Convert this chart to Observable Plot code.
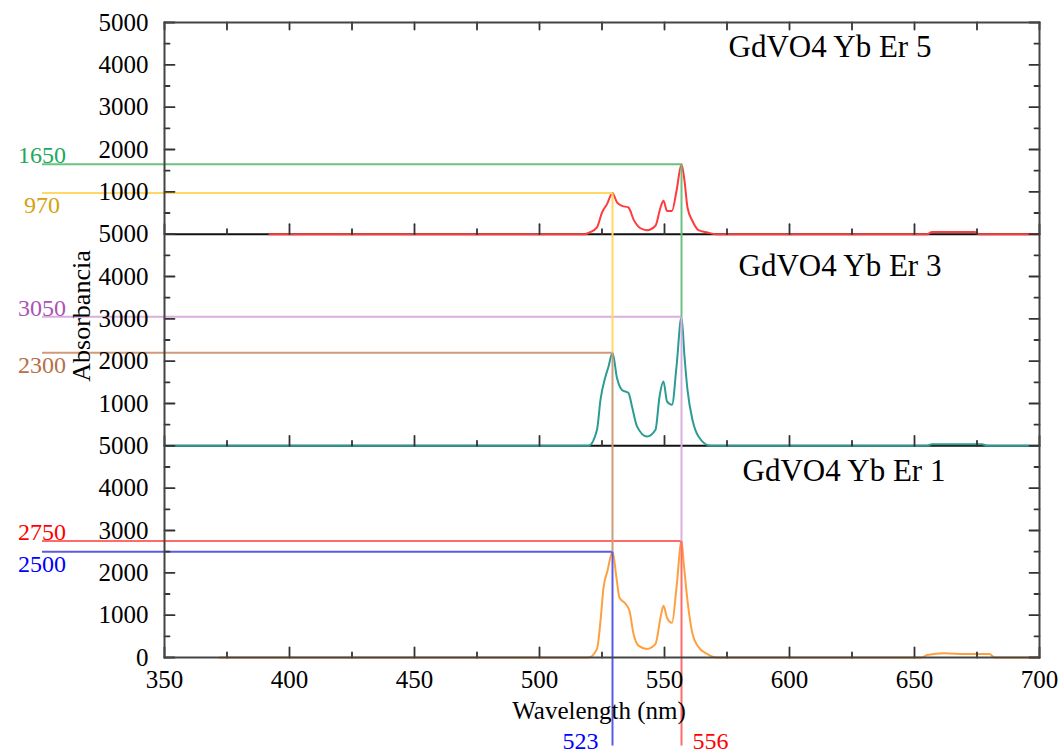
<!DOCTYPE html>
<html><head><meta charset="utf-8">
<script src="https://cdn.jsdelivr.net/npm/d3@7"></script>
<script src="https://cdn.jsdelivr.net/npm/@observablehq/plot@0.6"></script>
<style>body{margin:0;background:#fff}#chart{width:1064px;height:753px}</style>
</head><body><div id="chart"></div>
<script>
// ---------- data ----------
const xDomain = [350, 700];
const xTickValues = [350, 400, 450, 500, 550, 600, 650, 700];
const xMinorTicks = d3.range(350, 701, 25);
const yTickValues = d3.range(0, 15001, 1000);
const yTickLabels = ["0","1000","2000","3000","4000","5000","1000","2000","3000","4000","5000","1000","2000","3000","4000","5000"];
const yMinorTicks = d3.range(0, 15001, 500);

const panelTitles = ["GdVO4 Yb Er 5", "GdVO4 Yb Er 3", "GdVO4 Yb Er 1"];
const panelOffsets = [10000, 5000, 0];
const panelColors = ["#ff3b3b", "#2a9c94", "#ffa040"];

const er5Wavelength = [392, 450, 500, 518, 520, 523, 525, 527, 529.2, 531, 533, 535.6, 537.6, 540.4, 543, 546.4, 548.4, 549.6, 551, 553, 554.8, 556.8, 558, 559.2, 561.2, 563.6, 567.2, 570.4, 600, 655, 657, 674, 676, 700];
const er5Absorbance = [0, 0, 0, 0, 40, 160, 510, 710, 970, 750, 670, 630, 350, 140, 95, 200, 630, 790, 550, 550, 1020, 1650, 1260, 630, 310, 95, 40, 0, 0, 0, 50, 50, 0, 0];

const er3Wavelength = [350, 450, 500, 519.6, 523, 524.4, 526.4, 527.6, 529.2, 531, 533, 535.6, 537, 539, 543, 546.4, 548, 549.6, 551, 553, 554.8, 556.8, 558, 559.2, 561.2, 563.6, 568.4, 600, 655, 657, 677, 679, 700];
const er3Absorbance = [0, 0, 0, 0, 380, 1090, 1640, 1870, 2200, 1600, 1320, 1250, 930, 460, 220, 380, 1160, 1520, 1050, 970, 1870, 3050, 2110, 1320, 610, 220, 0, 0, 0, 40, 40, 0, 0];

const er1Wavelength = [372, 450, 500, 519.6, 523, 524.4, 525.6, 527.2, 529.2, 530.8, 532, 534.4, 536, 537.6, 539.6, 543, 546.4, 548.4, 549.6, 551, 553, 554.8, 556.8, 557.6, 559.2, 561.2, 563.2, 567.2, 571, 600, 653, 655, 662, 670, 680, 682, 700];
const er1Absorbance = [0, 0, 0, 0, 205, 866, 1650, 2050, 2500, 1880, 1410, 1270, 1100, 560, 280, 200, 320, 940, 1220, 940, 820, 1650, 2750, 2280, 1340, 560, 280, 80, 0, 0, 0, 60, 100, 80, 80, 0, 0];

const annotLabels = ["1650", "970", "3050", "2300", "2750", "2500"];
const annotValues = [1650, 970, 3050, 2200, 2750, 2500];
const annotPanel = [0, 0, 1, 1, 2, 2];
const annotWavelength = [556.8, 529.2, 556.8, 529.2, 556.8, 529.2];
const annotLineColors = ["#6cc27c", "#ffd966", "#dcaee0", "#cf9a78", "#ff6b6b", "#5a5ae6"];
const annotTextColors = ["#22a860", "#d4a20f", "#a955b5", "#b87048", "#ff0000", "#0000ff"];
const bottomLabels = ["523", "556"];
const bottomLabelWavelength = [529.2, 556.8];
const bottomLabelColors = ["#0000ff", "#ff0000"];

// ---------- build tables ----------
const series = [
  [er5Wavelength, er5Absorbance],
  [er3Wavelength, er3Absorbance],
  [er1Wavelength, er1Absorbance]
];
const curves = series.flatMap(([w, a], p) => w.map((x, i) => ({x, y: a[i] + panelOffsets[p], panel: p})));

const lineStart = 301;   // where the annotation leader lines begin (left of frame)
const dropBelow = -2080; // leader lines continue below the x axis
const annots = annotLabels.map((label, i) => {
  const y = annotValues[i] + panelOffsets[annotPanel[i]];
  const next = i + 2 < annotLabels.length ? annotValues[i + 2] + panelOffsets[annotPanel[i + 2]] : dropBelow;
  const partner = i % 2 === 0 ? i + 1 : i - 1;
  const above = annotValues[i] > annotValues[partner];
  return {label, y, next, x: annotWavelength[i], line: annotLineColors[i], text: annotTextColors[i], above};
});
const bottom = bottomLabels.map((label, i) => ({label, x: bottomLabelWavelength[i], color: bottomLabelColors[i]}));

const tickShape = {draw(ctx, l) { ctx.moveTo(0, 0); ctx.lineTo(0, -l); }};
const yMajorSet = new Set(yTickValues);
const yMinorOnly = yMinorTicks.filter(v => !yMajorSet.has(v));
const xMinorOnly = xMinorTicks.filter(v => !xTickValues.includes(v));
const boundaries = [0, 5000, 10000];

const titleX = [575.6, 579.6, 581.2];
const titleY = [4180, 4020, 4170];

const tickStyle = {stroke: "#333", strokeWidth: 1.8, anchor: "start", shape: tickShape};

const plot = Plot.plot({
  width: 1064, height: 753,
  marginLeft: 164, marginRight: 25, marginTop: 22, marginBottom: 96,
  style: {fontFamily: "'Liberation Serif', 'DejaVu Serif', serif", background: "#fff", color: "#000"},
  x: {domain: xDomain},
  y: {domain: [0, 15000]},
  marks: [
    Plot.ruleY([5000, 10000], {stroke: "#111", strokeWidth: 2}),
    Plot.line(curves, {x: "x", y: "y", z: "panel", stroke: d => panelColors[d.panel], strokeWidth: 2, curve: "monotone-x"}),
    // leader lines
    Plot.link(annots, {x1: () => lineStart, x2: "x", y1: "y", y2: "y", stroke: "line", strokeWidth: 2}),
    Plot.link(annots, {x1: "x", x2: "x", y1: "y", y2: "next", stroke: "line", strokeWidth: 2}),
    Plot.text(annots.filter(d => d.above), {x: () => lineStart, y: "y", text: "label", fill: "text", fontSize: 24,
      textAnchor: "middle", lineAnchor: "bottom", dy: -1}),
    Plot.text(annots.filter(d => !d.above), {x: () => lineStart, y: "y", text: "label", fill: "text", fontSize: 24,
      textAnchor: "middle", lineAnchor: "top", dy: 3}),
    Plot.text(bottom.slice(0, 1), {x: "x", y: () => dropBelow, text: "label", fill: "color", fontSize: 24,
      lineAnchor: "bottom", dy: 3, dx: -32, textAnchor: "middle"}),
    Plot.text(bottom.slice(1), {x: "x", y: () => dropBelow, text: "label", fill: "color", fontSize: 24,
      lineAnchor: "bottom", dy: 3, dx: 29, textAnchor: "middle"}),
    // titles
    Plot.text(panelTitles, {x: (d, i) => titleX[i], y: (d, i) => titleY[i] + panelOffsets[i], text: d => d,
      textAnchor: "start", lineAnchor: "bottom", fontSize: 31, fill: "#000"}),
    // axis labels
    Plot.axisY({ticks: yTickValues, tickFormat: d => yTickLabels[yTickValues.indexOf(d)], tickSize: 0, tickPadding: 16, fontSize: 25, label: null}),
    Plot.axisX({ticks: xTickValues, tickSize: 0, tickPadding: 13, fontSize: 25, label: null}),
    Plot.text(["Absorbancia"], {frameAnchor: "left", textAnchor: "middle", rotate: -90, dx: -83, dy: -24, fontSize: 26, text: d => d}),
    Plot.text(["Wavelength (nm)"], {frameAnchor: "bottom", dx: -3, dy: 61, lineAnchor: "bottom", fontSize: 25, text: d => d}),
    // inward ticks: left / right edges
    Plot.vector(yTickValues, {x: () => xDomain[0], y: d => d, rotate: 90, length: 10, ...tickStyle}),
    Plot.vector(yMinorOnly, {x: () => xDomain[0], y: d => d, rotate: 90, length: 5, ...tickStyle}),
    Plot.vector(yTickValues, {x: () => xDomain[1], y: d => d, rotate: -90, length: 10, ...tickStyle}),
    Plot.vector(yMinorOnly, {x: () => xDomain[1], y: d => d, rotate: -90, length: 5, ...tickStyle}),
    // x ticks at panel bottoms, pointing up
    Plot.vector(boundaries.flatMap(b => xTickValues.map(x => ({x, b}))), {x: "x", y: "b", rotate: 0, length: 10, ...tickStyle}),
    Plot.vector(boundaries.flatMap(b => xMinorOnly.map(x => ({x, b}))), {x: "x", y: "b", rotate: 0, length: 5, ...tickStyle}),
    // top edge ticks, pointing down
    Plot.vector(xMinorTicks, {x: d => d, y: () => 15000, rotate: 180, length: 7, ...tickStyle}),
    Plot.frame({stroke: "#444", strokeWidth: 2})
  ]
});
document.getElementById("chart").append(plot);
</script>
</body></html>
